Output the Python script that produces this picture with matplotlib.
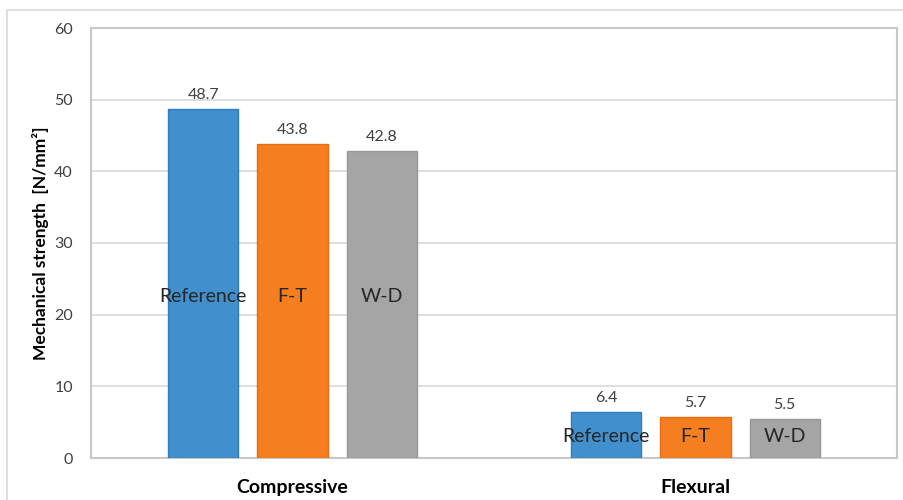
import numpy as np
import matplotlib
matplotlib.use("Agg")
import matplotlib.pyplot as plt
from matplotlib.patches import Rectangle

plt.rcParams['font.family'] = ['Lato', 'DejaVu Sans']

categories = ["Compressive", "Flexural"]
series = ["Reference", "F-T", "W-D"]
values = {
    "Reference": [48.7, 6.4],
    "F-T": [43.8, 5.7],
    "W-D": [42.8, 5.5],
}
face_colors = ["#4190cd", "#f47e20", "#a5a5a5"]
edge_colors = ["#2f7cc2", "#ea6c12", "#979797"]
y_ticks = [0, 10, 20, 30, 40, 50, 60]
y_label = "Mechanical strength  [N/mm²]"

fig = plt.figure(figsize=(9.04, 5.0), dpi=100)
# outer chart frame
fig.patches.append(Rectangle((7 / 904, -0.05), 1.0, (500 - 10) / 500 + 0.05,
                             transform=fig.transFigure, fill=False,
                             edgecolor="#d9d9d9", linewidth=1.2))

ax = fig.add_axes([91 / 904, 42 / 500, 806 / 904, 430 / 500])
x = np.arange(len(categories))
width = 0.174
step = 0.221
text_color = "#404040"

for i, name in enumerate(series):
    vals = values[name]
    pos = x + (i - 1) * step
    bars = ax.bar(pos, vals, width=width, color=face_colors[i],
                  edgecolor=edge_colors[i], linewidth=1.0, zorder=3)
    for b, v in zip(bars, vals):
        ax.annotate(f"{v:.1f}", (b.get_x() + b.get_width() / 2, v),
                    xytext=(0, 5), textcoords="offset points",
                    ha="center", va="bottom", fontsize=11.5, color=text_color)

# series names inside the bars, aligned at half the group's mean height
for j in range(len(categories)):
    group = [values[n][j] for n in series]
    y_mid = np.mean(group) / 2
    for i, name in enumerate(series):
        ax.text(x[j] + (i - 1) * step, y_mid, name, ha="center", va="center",
                fontsize=14, color="#262626", zorder=4)

ax.set_xlim(-0.5, 1.5)
ax.set_ylim(0, 60)
ax.set_yticks(y_ticks)
ax.set_yticklabels([str(t) for t in y_ticks], fontsize=11.5, color=text_color)
ax.set_xticks(x)
ax.set_xticklabels(categories, fontsize=14, fontweight="bold", color="#000000")
ax.tick_params(axis="both", length=0)
ax.tick_params(axis="y", pad=13)
ax.tick_params(axis="x", pad=15)
ax.set_ylabel(y_label, fontsize=12.5, fontweight="bold", color="#000000", labelpad=4)
ax.yaxis.grid(True, color="#d9d9d9", linewidth=1.2, zorder=0)
ax.set_axisbelow(True)
for s in ax.spines.values():
    s.set_color("#c8c8c8")
    s.set_linewidth(1.5)

fig.savefig("out.png", dpi=100)
